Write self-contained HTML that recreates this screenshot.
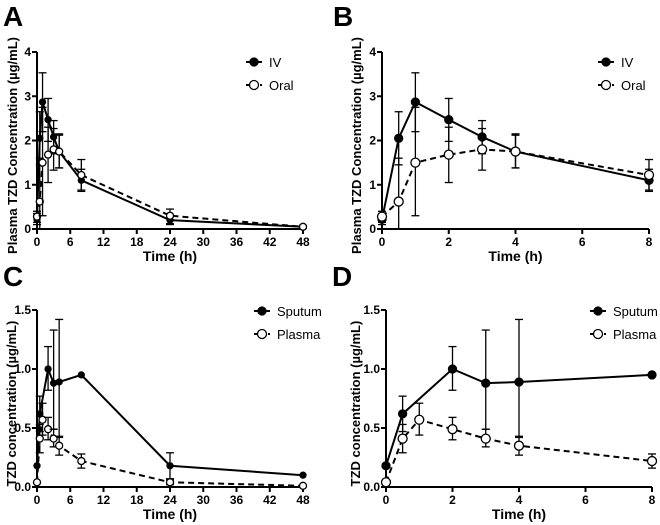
<!DOCTYPE html>
<html><head><meta charset="utf-8"><style>
body{margin:0;background:#fff}
svg{display:block;font-family:"Liberation Sans",Arial,sans-serif}
</style></head><body>
<svg id="fig" width="660" height="525" viewBox="0 0 660 525"></svg>
<script>
// Panel A/B data (plasma TZD, IV vs oral)
const abTimes=[0,0.5,1,2,3,4,8,24,48];
const ivVals=[0.22,2.05,2.87,2.47,2.08,1.75,1.1,0.2,0.05];
const ivLo=[0.1,1.45,2.2,1.98,1.7,1.38,0.85,0.1,0.02];
const ivHi=[0.35,2.65,3.53,2.95,2.45,2.15,1.35,0.3,0.08];
const oralVals=[0.28,0.62,1.5,1.68,1.8,1.75,1.22,0.3,0.05];
const oralLo=[0.15,0,0.3,1.05,1.33,1.38,0.88,0.12,0.02];
const oralHi=[0.4,1.6,2.75,2.3,2.27,2.12,1.57,0.45,0.08];
// Panel C/D data (sputum vs plasma)
const sputTimes=[0,0.5,2,3,4,8,24,48];
const sputVals=[0.18,0.62,1.0,0.88,0.89,0.95,0.18,0.1];
const sputLo=[0.18,0.47,0.82,0.49,0.42,0.95,0.07,0.1];
const sputHi=[0.18,0.77,1.19,1.33,1.42,0.95,0.29,0.1];
const plasTimes=[0,0.5,1,2,3,4,8,24,48];
const plasVals=[0.04,0.41,0.57,0.49,0.41,0.35,0.22,0.04,0.01];
const plasLo=[0.04,0.29,0.44,0.4,0.34,0.27,0.16,0.02,0.01];
const plasHi=[0.04,0.53,0.71,0.59,0.49,0.43,0.28,0.06,0.01];
const xTicksLong=[0,6,12,18,24,30,36,42,48];
const xTicksShort=[0,2,4,6,8];
const yTicksAB=[0,1,2,3,4];
const yTicksCD=[0,0.5,1.0,1.5];

const svg=document.getElementById('fig');
const NS='http://www.w3.org/2000/svg';
function mk(tag,attrs,parent){const e=document.createElementNS(NS,tag);for(const k in attrs)e.setAttribute(k,attrs[k]);(parent||svg).appendChild(e);return e;}

function panel(p){
  const g=mk('g',{});
  
  
  const sx=v=>p.x0+(v-p.xmin)/(p.xmax-p.xmin)*(p.x1-p.x0);
  const sy=v=>p.y0-(v-p.ymin)/(p.ymax-p.ymin)*(p.y0-p.y1);
  const lbl=mk('text',{x:p.lx,y:p.ly,'font-size':28,'font-weight':'bold',fill:'#000'},g);
  lbl.textContent=p.id;
  
  
  const xa=mk('line',{x1:p.x0,x2:p.x1,y1:p.y0,y2:p.y0,stroke:'#000','stroke-width':2},g);
  
  
  const ya=mk('line',{x1:p.x0,x2:p.x0,y1:p.y0+1,y2:p.y1,stroke:'#000','stroke-width':2},g);
  
  
  p.xticks.forEach(t=>{
    mk('line',{x1:sx(t),x2:sx(t),y1:p.y0,y2:p.y0+5,stroke:'#000','stroke-width':2},g);
    const tx=mk('text',{x:sx(t),y:p.y0+17,'font-size':12,'font-weight':'bold','text-anchor':'middle'},g);
    tx.textContent=t;
    
    
  });
  p.yticks.forEach(t=>{
    mk('line',{x1:p.x0-5,x2:p.x0,y1:sy(t),y2:sy(t),stroke:'#000','stroke-width':2},g);
    const tx=mk('text',{x:p.x0-6,y:sy(t)+4,'font-size':12,'font-weight':'bold','text-anchor':'end'},g);
    tx.textContent=p.ydec?t.toFixed(1):t;
    
    
  });
  const xt=mk('text',{x:(p.x0+p.x1)/2,y:p.y0+32,'font-size':14,'font-weight':'bold','text-anchor':'middle'},g);
  xt.textContent='Time (h)';
  
  
  const yt=mk('text',{x:0,y:0,'font-size':13,'font-weight':'bold','text-anchor':'middle',transform:`translate(${p.ytx},${(p.y0+p.y1)/2+5}) rotate(-90)`},g);
  yt.textContent=p.ytitle;
  
  
  p.series.forEach((s,si)=>{
    const sg=mk('g',{},g);
    
    
    const idx=s.t.map((t,i)=>i).filter(i=>s.t[i]<=p.xmax);
    const pts=idx.map(i=>sx(s.t[i])+','+sy(s.v[i])).join(' ');
    mk('polyline',{points:pts,fill:'none',stroke:'#000','stroke-width':2,'stroke-dasharray':s.open?'6,4':'none'},sg);
    idx.forEach(i=>{
      const x=sx(s.t[i]);
      if(s.hi[i]>s.lo[i]){
        mk('line',{x1:x,x2:x,y1:sy(s.lo[i]),y2:sy(s.hi[i]),stroke:'#000','stroke-width':1.3},sg);
        mk('line',{x1:x-4,x2:x+4,y1:sy(s.lo[i]),y2:sy(s.lo[i]),stroke:'#000','stroke-width':1.3},sg);
        mk('line',{x1:x-4,x2:x+4,y1:sy(s.hi[i]),y2:sy(s.hi[i]),stroke:'#000','stroke-width':1.3},sg);
      }
      const c=mk('circle',{cx:x,cy:sy(s.v[i]),r:s.open?p.r+0.5:p.r,fill:s.open?'#fff':'#000',stroke:'#000','stroke-width':1.3},sg);
      
      
    });
    const ly=p.legy+si*23;
    const lg=mk('g',{},g);
    
    
    mk('line',{x1:p.legx,x2:p.legx+16,y1:ly,y2:ly,stroke:'#000','stroke-width':2,'stroke-dasharray':s.open?'4,3':'none'},lg);
    mk('circle',{cx:p.legx+8,cy:ly,r:s.open?4.5:4,fill:s.open?'#fff':'#000',stroke:'#000','stroke-width':1.3},lg);
    const lt=mk('text',{x:p.legx+23,y:ly+5,'font-size':13},lg);
    lt.textContent=s.name;
  });
}
const ytAB='Plasma TZD Concentration (\u00b5g/mL)';
const ytCD='TZD concentration (\u00b5g/mL)';
const sAB=[{name:'IV',t:abTimes,v:ivVals,lo:ivLo,hi:ivHi,open:false},{name:'Oral',t:abTimes,v:oralVals,lo:oralLo,hi:oralHi,open:true}];
const sCD=[{name:'Sputum',t:sputTimes,v:sputVals,lo:sputLo,hi:sputHi,open:false},{name:'Plasma',t:plasTimes,v:plasVals,lo:plasLo,hi:plasHi,open:true}];
panel({id:'A',lx:3,ly:26,r:3,x0:37,x1:303,xmin:0,xmax:48,y0:229,y1:52,ymin:0,ymax:4,xticks:xTicksLong,yticks:yTicksAB,ydec:false,ytx:17,ytitle:ytAB,series:sAB,legx:246,legy:62});
panel({id:'B',lx:333,ly:26,r:4,x0:382,x1:649,xmin:0,xmax:8,y0:229,y1:52,ymin:0,ymax:4,xticks:xTicksShort,yticks:yTicksAB,ydec:false,ytx:361,ytitle:ytAB,series:sAB,legx:598,legy:62});
panel({id:'C',lx:3,ly:286,r:3,x0:37,x1:303,xmin:0,xmax:48,y0:487,y1:310,ymin:0,ymax:1.5,xticks:xTicksLong,yticks:yTicksCD,ydec:true,ytx:16,ytitle:ytCD,series:sCD,legx:254,legy:311});
panel({id:'D',lx:332,ly:286,r:4,x0:386,x1:652,xmin:0,xmax:8,y0:487,y1:310,ymin:0,ymax:1.5,xticks:xTicksShort,yticks:yTicksCD,ydec:true,ytx:360,ytitle:ytCD,series:sCD,legx:590,legy:311});
</script>
</body></html>
